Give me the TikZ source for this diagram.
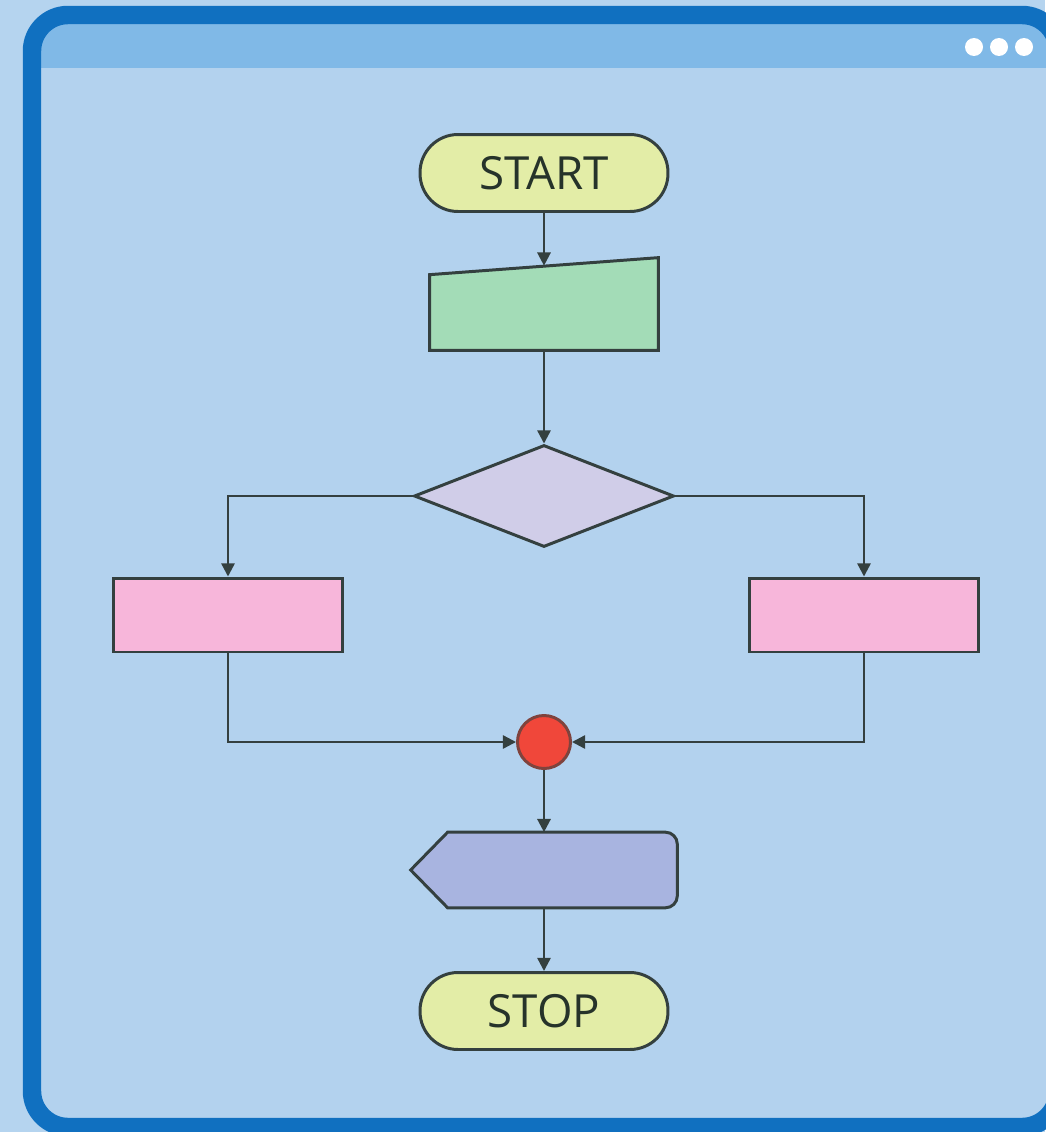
\documentclass[tikz,border=0pt]{standalone}
\usepackage{fontspec}
\setmainfont{Open Sans}
\usetikzlibrary{positioning, shapes.geometric, arrows.meta, calc}
\usepackage{xcolor}
\definecolor{fcpage}{HTML}{B5D4EF}
\definecolor{fcbody}{HTML}{B3D2EE}
\definecolor{fcbar}{HTML}{80B9E7}
\definecolor{fcframe}{HTML}{1070C0}
\definecolor{fcline}{HTML}{34403F}
\definecolor{fctext}{HTML}{26332A}
\definecolor{fcterm}{HTML}{E3EDA7}
\definecolor{fcinput}{HTML}{A3DCB7}
\definecolor{fcdec}{HTML}{D0CDE8}
\definecolor{fcproc}{HTML}{F7B6DA}
\definecolor{fcmerge}{HTML}{F0473A}
\definecolor{fcdisp}{HTML}{A8B4E0}

\begin{document}
\begin{tikzpicture}[x=0.02cm, y=-0.02cm,
    shapeline/.style={draw=fcline, line width=1.7pt},
    terminal/.style={shapeline, fill=fcterm, rectangle, rounded corners=0.76cm,
      minimum width=4.96cm, minimum height=1.54cm, text=fctext,
      font=\fontsize{26}{30}\selectfont},
    procbox/.style={shapeline, fill=fcproc, rectangle, minimum width=4.6cm, minimum height=1.48cm},
    flow/.style={draw=fcline, line width=1.35pt, -{Triangle[length=7.5pt, width=7.5pt]}}]
    \useasboundingbox (0,0) rectangle (1045,1132);
    \fill[fcpage] (0,0) rectangle (1045,1132);
    \begin{scope}
      \clip[rounded corners=0.72cm] (32,15) rectangle (1058,1127);
      \fill[fcbody] (0,0) rectangle (1100,1140);
      \fill[fcbar] (0,0) rectangle (1100,68);
    \end{scope}
    \draw[fcframe, line width=10.5pt, rounded corners=0.72cm] (32,15) rectangle (1058,1127);
    \foreach \x in {974,999,1024}
      \fill[white] (\x,47) circle (0.18cm);

    \node[terminal] (start) at (544,173) {START};
    \node[rectangle, minimum width=4.56cm, minimum height=1.84cm] (inp) at (544,304) {};
    \draw[shapeline, fill=fcinput]
      ($(inp.north west)+(0,17)$) -- (inp.north east) -- (inp.south east) -- (inp.south west) -- cycle;
    \coordinate (inptop) at ($(inp.north)+(0,8)$);
    \node[shapeline, fill=fcdec, diamond, inner sep=0pt, minimum width=5.2cm, minimum height=2.04cm] (dec) at (544,496) {};
    \node[procbox] (lbox) at (228,615) {};
    \node[procbox] (rbox) at (864,615) {};
    \node[shapeline, draw=fcline!60!fcmerge, fill=fcmerge, circle, minimum size=1.06cm, inner sep=0pt] (merge) at (544,742) {};
    \node[rectangle, minimum width=5.32cm, minimum height=1.5cm] (disp) at (544,870) {};
    \draw[shapeline, fill=fcdisp]
      ($(disp.north west)+(37,0)$) [rounded corners=0.24cm] -- (disp.north east) -- (disp.south east)
      [sharp corners] -- ($(disp.south west)+(37,0)$) -- (disp.west) -- cycle;
    \node[terminal] (stop) at (544,1011) {STOP};

    \draw[flow] (start) -- (inptop);
    \draw[flow] (inp.south) -- (dec.north);
    \draw[flow] (dec.west) -| (lbox.north);
    \draw[flow] (dec.east) -| (rbox.north);
    \draw[flow] (lbox.south) |- (merge.west);
    \draw[flow] (rbox.south) |- (merge.east);
    \draw[flow] (merge.south) -- (disp.north);
    \draw[flow] (disp.south) -- (stop.north);
  \end{tikzpicture}
\end{document}
